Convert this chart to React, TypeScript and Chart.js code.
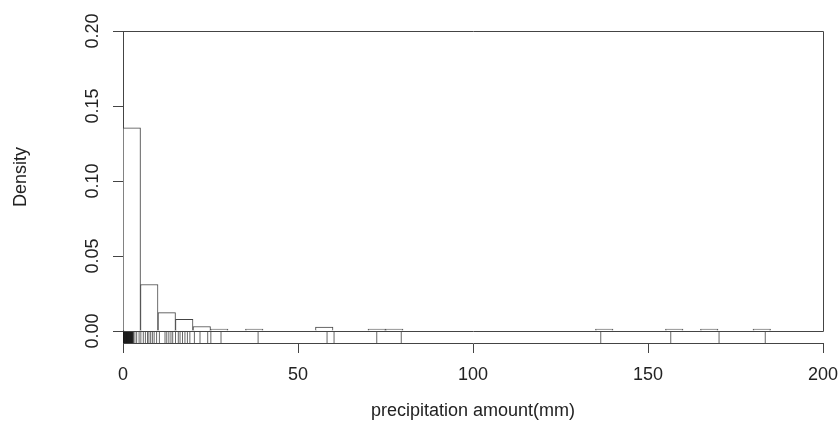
import { useEffect, useRef } from 'react';
import { Chart, registerables } from 'chart.js';

Chart.register(...registerables);

// histogram breaks (mm) and density per bin
const binBreaks = [
  0, 5, 10, 15, 20, 25, 30, 35, 40, 45, 50, 55, 60, 65, 70, 75, 80, 85, 90,
  95, 100, 105, 110, 115, 120, 125, 130, 135, 140, 145, 150, 155, 160, 165,
  170, 175, 180, 185,
];
const densities = [
  0.1355, 0.031, 0.0123, 0.0077, 0.003, 0.0013, 0, 0.0013, 0, 0, 0, 0.0026,
  0, 0, 0.0013, 0.0013, 0, 0, 0, 0, 0, 0, 0, 0, 0, 0, 0, 0.0013, 0, 0, 0,
  0.0013, 0, 0.0013, 0, 0, 0.0013,
];
// individual observations shown as a rug
const rugValues = [
  0.2, 0.3, 0.4, 0.5, 0.6, 0.7, 0.8, 0.9, 1.0, 1.1, 1.2, 1.3, 1.4, 1.5, 1.6,
  1.7, 1.8, 1.9, 2.0, 2.1, 2.2, 2.3, 2.4, 2.5, 2.6, 2.7, 2.8, 3.0, 3.4, 3.9,
  4.6, 5.1, 5.8, 6.4, 7.0, 7.4, 7.9, 8.4, 8.9, 9.6, 10.4, 12.0, 12.5, 13.1,
  13.7, 14.2, 15.0, 15.8, 16.3, 17.0, 17.7, 18.4, 19.1, 20.4, 22.0, 24.2,
  25.1, 28.0, 38.6, 58.3, 60.3, 72.5, 79.5, 136.5, 156.5, 170.3, 183.5,
];
const xTicks = [0, 50, 100, 150, 200];
const yTicks = [0, 0.05, 0.1, 0.15, 0.2];

const FONT = "'Liberation Sans', Arial, Helvetica, sans-serif";
const LINE = '#444';
const TEXT = '#222';

const boxPlugin = {
  id: 'histBox',
  afterDatasetsDraw(chart: any) {
    const { ctx, scales } = chart;
    const xs = scales.x;
    const ys = scales.y;
    const al = (v: number) => Math.round(v) + 0.5;
    const x0 = al(xs.getPixelForValue(xTicks[0]));
    const x1 = al(xs.getPixelForValue(xTicks[xTicks.length - 1]));
    const y0 = al(ys.getPixelForValue(yTicks[0]));
    const y1 = al(ys.getPixelForValue(yTicks[yTicks.length - 1]));
    ctx.save();
    ctx.strokeStyle = LINE;
    ctx.lineWidth = 1;
    ctx.beginPath();
    ctx.moveTo(x0, y1);
    ctx.lineTo(x1, y1);
    ctx.lineTo(x1, y0);
    ctx.lineTo(x0, y0);
    ctx.stroke();
    ctx.restore();
  },
};

export default function App() {
  const ref = useRef<HTMLCanvasElement | null>(null);

  useEffect(() => {
    document.body.style.margin = '0';
    const canvas = ref.current;
    if (!canvas) return;

    const bars = densities.map((d, i) => ({
      x: (binBreaks[i] + binBreaks[i + 1]) / 2,
      y: d,
    }));
    const rug = rugValues.map((v) => ({ x: v, y: -0.004 }));

    const chart = new Chart(canvas, {
      type: 'bar',
      data: {
        datasets: [
          {
            type: 'bar',
            data: bars,
            backgroundColor: '#ffffff',
            borderColor: LINE,
            borderWidth: 1,
            borderSkipped: 'start',
            barPercentage: 1,
            categoryPercentage: 1,
          } as any,
          {
            type: 'scatter',
            data: rug,
            pointStyle: 'line',
            pointRotation: 90,
            pointRadius: 6,
            pointBorderWidth: 1,
            pointBorderColor: 'rgba(0,0,0,0.6)',
            pointBackgroundColor: 'rgba(0,0,0,0.6)',
          } as any,
        ],
      },
      options: {
        responsive: false,
        animation: false,
        events: [],
        layout: { padding: { top: 31, right: 15, left: 0, bottom: 0 } },
        plugins: {
          legend: { display: false },
          tooltip: { enabled: false },
        },
        scales: {
          x: {
            type: 'linear',
            min: 0,
            max: 200,
            offset: false,
            afterFit: (s: any) => {
              s.height = 87;
              s.paddingLeft = 0;
              s.paddingRight = 0;
            },
            afterBuildTicks: (s: any) => {
              s.ticks = xTicks.map((v) => ({ value: v }));
            },
            grid: {
              offset: false,
              drawOnChartArea: false,
              drawTicks: true,
              tickLength: 10,
              color: LINE,
            },
            border: { display: true, color: LINE, width: 1 },
            ticks: {
              autoSkip: false,
              maxRotation: 0,
              padding: 11,
              color: TEXT,
              font: { family: FONT, size: 18 },
              callback: (v: any) => String(v),
            },
            title: {
              display: true,
              text: 'precipitation amount(mm)',
              color: TEXT,
              font: { family: FONT, size: 18 },
              padding: { top: 0, bottom: 8 },
            },
          },
          y: {
            type: 'linear',
            min: -0.008,
            max: 0.2,
            afterFit: (s: any) => {
              s.width = 123;
              s.paddingTop = 0;
              s.paddingBottom = 0;
            },
            afterBuildTicks: (s: any) => {
              s.ticks = yTicks.map((v) => ({ value: v }));
            },
            grid: {
              drawOnChartArea: false,
              drawTicks: true,
              tickLength: 10,
              color: LINE,
            },
            border: { display: true, color: LINE, width: 1 },
            ticks: {
              autoSkip: false,
              minRotation: 90,
              maxRotation: 90,
              crossAlign: 'center',
              padding: 2,
              color: TEXT,
              font: { family: FONT, size: 18 },
              callback: (v: any) => Number(v).toFixed(2),
            },
            title: {
              display: true,
              text: '    Density',
              color: TEXT,
              font: { family: FONT, size: 18 },
              padding: { top: 10, bottom: 0 },
            },
          },
        },
      },
      plugins: [boxPlugin],
    });

    return () => chart.destroy();
  }, []);

  return (
    <div style={{ position: 'absolute', left: 0, top: 0, width: 838, height: 430 }}>
      <canvas ref={ref} width={838} height={430} style={{ display: 'block' }} />
    </div>
  );
}
